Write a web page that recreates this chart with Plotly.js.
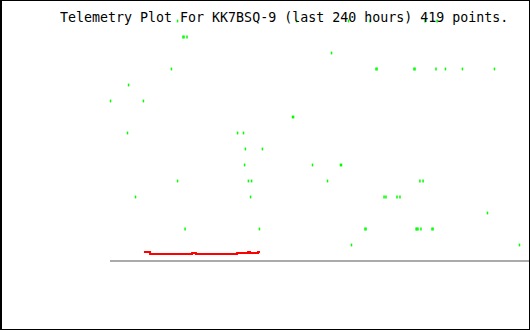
<!DOCTYPE html>
<html>
<head>
<meta charset="utf-8">
<script src="https://cdn.plot.ly/plotly-3.0.1.min.js"></script>
<style>
  html, body { margin: 0; padding: 0; background: #ffffff; }
  #wrap { position: relative; width: 530px; height: 330px; }
  #chart { position: absolute; left: 0; top: 0; width: 530px; height: 330px; }
  #frame { position: absolute; left: 0; top: 0; width: 530px; height: 330px; box-sizing: border-box;
           border-left: 2px solid #000; border-top: 1px solid #000; border-right: 1px solid #000; border-bottom: 1px solid #000;
           pointer-events: none; }
</style>
</head>
<body>
<div id="wrap"><div id="chart"></div><div id="frame"></div></div>
<script>
// Title
const titleText = "Telemetry Plot For KK7BSQ-9 (last 240 hours) 419 points.";

// Green telemetry samples: time (hours into the 240 h window) and level
const greenHours = [
  38.6, 106.6, 136.3, 148.6, 180.0, 186.9,
  41.7, 42.3, 44.0,
  126.6,
  35.1, 152.0, 152.6, 173.7, 174.3, 186.3, 191.7, 201.4, 219.7,
  10.6,
  0.3, 19.1,
  104.3, 104.9,
  10.0, 72.9, 76.3,
  77.4, 87.1,
  76.9, 115.7, 131.7, 132.3,
  38.6, 79.1, 80.9, 124.3, 177.1, 178.9,
  14.6, 80.3, 156.6, 157.7, 164.0, 165.7,
  215.7,
  42.9, 85.4, 145.7, 146.3, 174.9, 175.4, 176.0, 177.7, 184.0, 184.6,
  138.0, 234.0
];
const greenLevels = [
  15, 15, 15, 15, 15, 15,
  14, 14, 14,
  13,
  12, 12, 12, 12, 12, 12, 12, 12, 12,
  11,
  10, 10,
  9, 9,
  8, 8, 8,
  7, 7,
  6, 6, 6, 6,
  5, 5, 5, 5, 5, 5,
  4, 4, 4, 4, 4, 4,
  3,
  2, 2, 2, 2, 2, 2, 2, 2, 2, 2,
  1, 1
];

// Red telemetry series (step breakpoints)
const redHours  = [19.4, 22.9, 46.9, 49.1, 72.6, 78.9, 80.0, 84.6, 85.7];
const redLevels = [0.5625, 0.4375, 0.5, 0.4375, 0.5, 0.5625, 0.5, 0.5625, 0.5625];

const traces = [
  {
    x: redHours, y: redLevels, type: 'scatter', mode: 'lines',
    line: { color: '#ff0000', width: 2, shape: 'hv' },
    hoverinfo: 'skip', cliponaxis: false
  },
  {
    x: greenHours, y: greenLevels, type: 'scatter', mode: 'markers',
    marker: { symbol: 'line-ns', size: 2, color: '#00ff00', line: { color: '#00ff00', width: 1.5 } },
    hoverinfo: 'skip', cliponaxis: false
  }
];

const layout = {
  width: 530, height: 330,
  margin: { l: 110, r: 0, t: 0, b: 69, pad: 0 },
  paper_bgcolor: '#ffffff', plot_bgcolor: '#ffffff',
  showlegend: false,
  title: {
    text: titleText,
    x: 60 / 530, xref: 'container', xanchor: 'left',
    y: 1 - 17 / 330, yref: 'container', yanchor: 'middle',
    font: { family: 'DejaVu Sans Mono, monospace', size: 13.3, color: '#000000' }
  },
  xaxis: { range: [0, 240], visible: false, fixedrange: true },
  yaxis: { range: [0, 261 / 16], visible: false, fixedrange: true },
  shapes: [
    { type: 'line', xref: 'paper', yref: 'paper', x0: 0, x1: 1, y0: 0, y1: 0,
      layer: 'below', line: { color: '#aaaaaa', width: 2 } }
  ]
};

Plotly.newPlot('chart', traces, layout, { staticPlot: true, displayModeBar: false });
</script>
</body>
</html>
